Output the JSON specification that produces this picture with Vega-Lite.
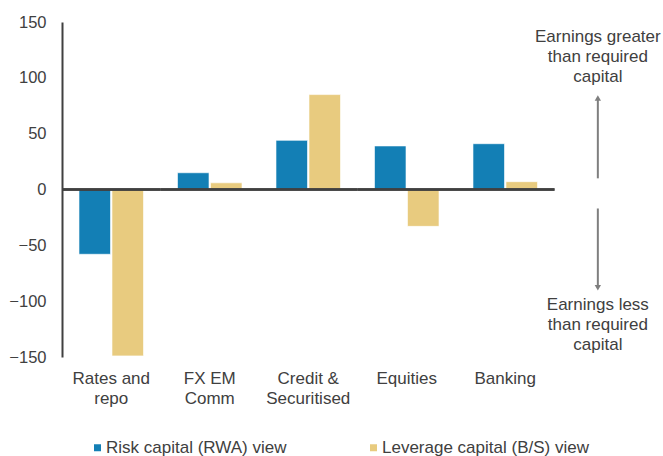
{
  "$schema": "https://vega.github.io/schema/vega-lite/v6.json",
  "width": 591,
  "height": 335,
  "autosize": {"type": "none"},
  "padding": {"left": 62, "top": 22, "right": 10, "bottom": 99},
  "config": {
    "view": {"stroke": null},
    "font": "Liberation Sans"
  },
  "datasets": {
    "bars": [
      {"category": "Rates and repo", "view": "Risk capital (RWA) view", "value": -58},
      {"category": "Rates and repo", "view": "Leverage capital (B/S) view", "value": -149},
      {"category": "FX EM Comm", "view": "Risk capital (RWA) view", "value": 15},
      {"category": "FX EM Comm", "view": "Leverage capital (B/S) view", "value": 6},
      {"category": "Credit & Securitised", "view": "Risk capital (RWA) view", "value": 44},
      {"category": "Credit & Securitised", "view": "Leverage capital (B/S) view", "value": 85},
      {"category": "Equities", "view": "Risk capital (RWA) view", "value": 39},
      {"category": "Equities", "view": "Leverage capital (B/S) view", "value": -33},
      {"category": "Banking", "view": "Risk capital (RWA) view", "value": 41},
      {"category": "Banking", "view": "Leverage capital (B/S) view", "value": 7}
    ],
    "notes": [
      {"category": "note", "y": 137, "text": "Earnings greater\nthan required\ncapital"},
      {"category": "note", "y": -103, "text": "Earnings less\nthan required\ncapital"}
    ],
    "arrows": [
      {"category": "note", "start": 10, "tip": 82, "dir": "up"},
      {"category": "note", "start": -17, "tip": -88, "dir": "down"}
    ]
  },
  "encoding": {
    "x": {
      "field": "category",
      "type": "nominal",
      "scale": {
        "domain": ["Rates and repo", "FX EM Comm", "Credit & Securitised", "Equities", "Banking", "note"],
        "paddingInner": 0,
        "paddingOuter": 0
      },
      "axis": {
        "title": null,
        "domain": false,
        "ticks": false,
        "labelAngle": 0,
        "labelFontSize": 17,
        "labelColor": "#404040",
        "labelLineHeight": 20,
        "labelPadding": 13,
        "labelExpr": "datum.value == 'Rates and repo' ? ['Rates and', 'repo'] : datum.value == 'FX EM Comm' ? ['FX EM', 'Comm'] : datum.value == 'Credit & Securitised' ? ['Credit &', 'Securitised'] : datum.value == 'note' ? '' : datum.value"
      }
    }
  },
  "layer": [
    {
      "data": {"name": "bars"},
      "mark": {"type": "bar", "stroke": "#ffffff", "strokeOpacity": 0.6, "strokeWidth": 1},
      "encoding": {
        "xOffset": {
          "field": "view",
          "type": "nominal",
          "scale": {
            "domain": ["Risk capital (RWA) view", "Leverage capital (B/S) view"],
            "paddingInner": 0.045,
            "paddingOuter": 0.515
          }
        },
        "y": {
          "field": "value",
          "type": "quantitative",
          "scale": {"domain": [-150, 150], "nice": false, "zero": true},
          "axis": {
            "title": null,
            "values": [-150, -100, -50, 0, 50, 100, 150],
            "grid": false,
            "ticks": false,
            "labelPadding": 16,
            "labelFontSize": 16.5,
            "labelColor": "#404040",
            "domainColor": "#404040",
            "domainWidth": 2
          }
        },
        "color": {
          "field": "view",
          "type": "nominal",
          "scale": {
            "domain": ["Risk capital (RWA) view", "Leverage capital (B/S) view"],
            "range": ["#137FB5", "#E8CB7F"]
          },
          "legend": {
            "title": null,
            "orient": "none",
            "legendX": 27,
            "legendY": 417,
            "direction": "horizontal",
            "symbolType": "square",
            "symbolSize": 49,
            "symbolStrokeWidth": 0,
            "labelFontSize": 17,
            "labelColor": "#404040",
            "labelOffset": 0,
            "labelLimit": 400,
            "columnPadding": 78,
            "padding": 0
          }
        }
      }
    },
    {
      "data": {"name": "bars"},
      "mark": {"type": "bar", "fillOpacity": 0, "stroke": "#404040", "strokeWidth": 2.5},
      "encoding": {
        "y": {"datum": 0, "type": "quantitative"},
        "y2": {"datum": 0}
      }
    },
    {
      "data": {"name": "arrows"},
      "mark": {"type": "rule", "color": "#7f7f7f", "strokeWidth": 2},
      "encoding": {
        "x": {"field": "category", "type": "nominal", "bandPosition": 0.44},
        "y": {"field": "start", "type": "quantitative"},
        "y2": {"field": "tip"}
      }
    },
    {
      "data": {"name": "arrows"},
      "mark": {"type": "point", "filled": true, "color": "#7f7f7f", "size": 40, "opacity": 1},
      "encoding": {
        "x": {"field": "category", "type": "nominal", "bandPosition": 0.44},
        "y": {"field": "tip", "type": "quantitative"},
        "shape": {
          "field": "dir",
          "type": "nominal",
          "scale": {"domain": ["up", "down"], "range": ["triangle-up", "triangle-down"]},
          "legend": null
        }
      }
    },
    {
      "data": {"name": "notes"},
      "mark": {
        "type": "text",
        "fontSize": 17,
        "lineHeight": 20,
        "lineBreak": "\n",
        "align": "center",
        "baseline": "middle",
        "color": "#404040"
      },
      "encoding": {
        "x": {"field": "category", "type": "nominal", "bandPosition": 0.44},
        "y": {"field": "y", "type": "quantitative"},
        "text": {"field": "text"}
      }
    }
  ]
}
